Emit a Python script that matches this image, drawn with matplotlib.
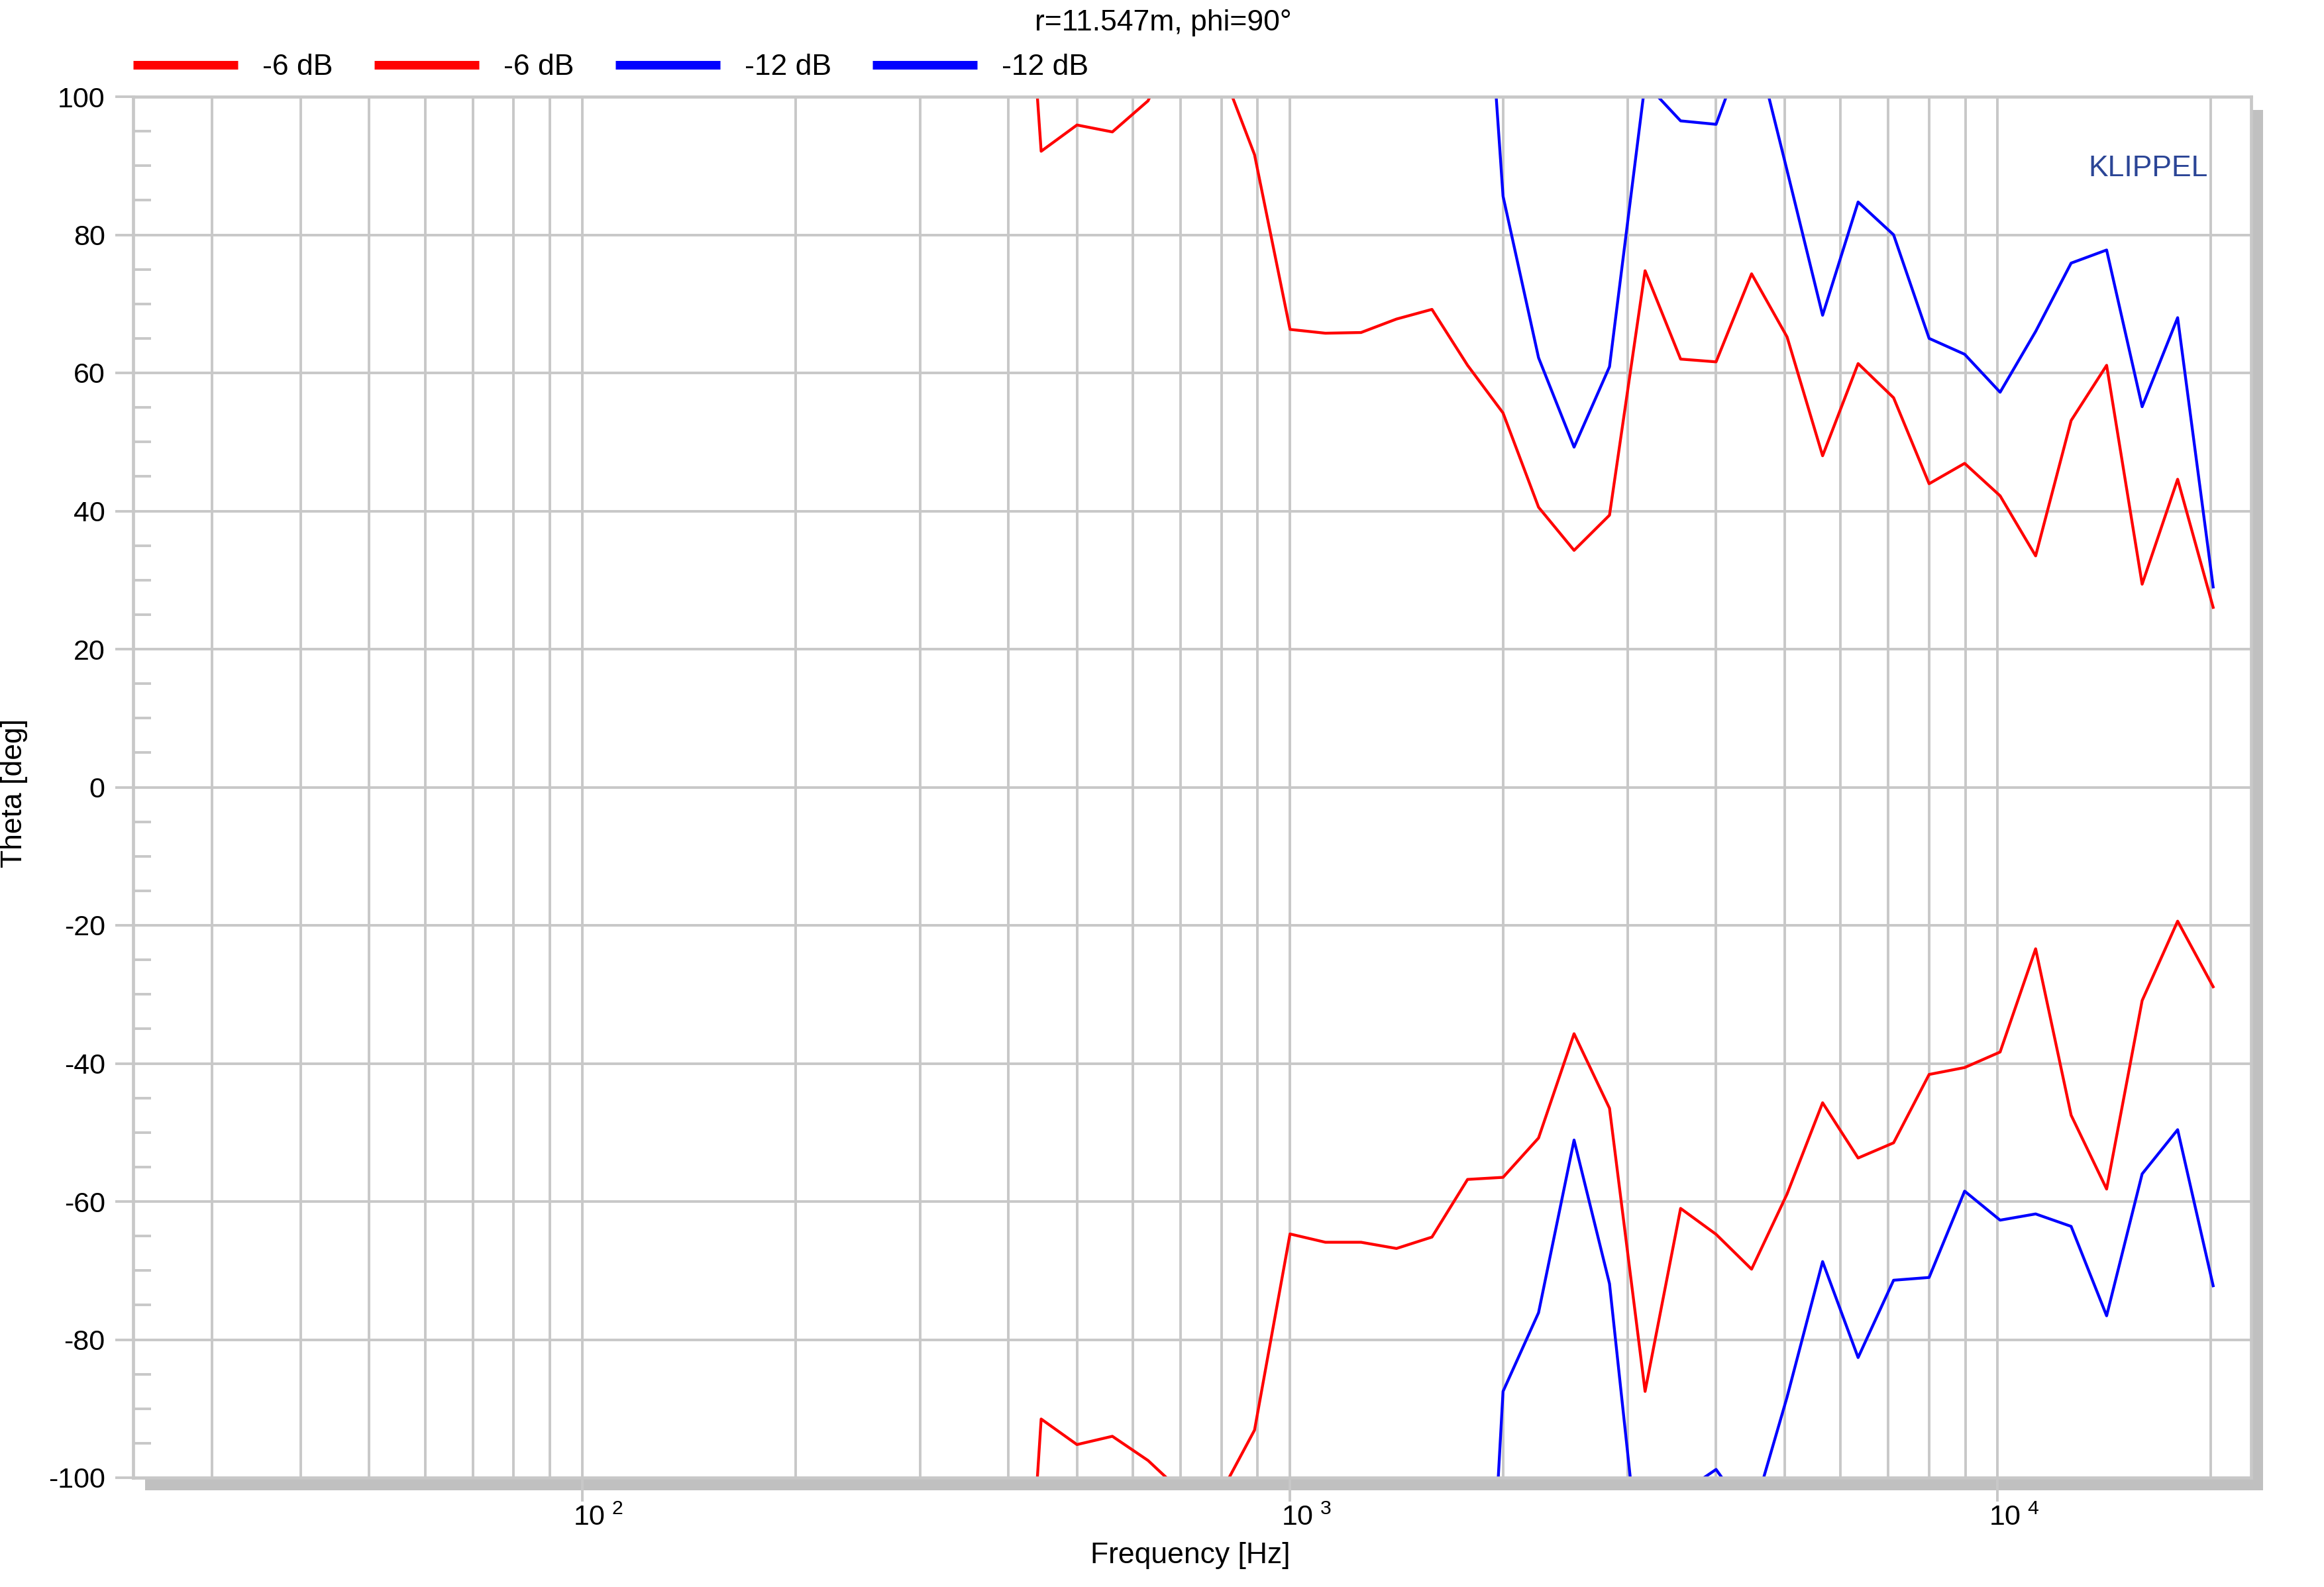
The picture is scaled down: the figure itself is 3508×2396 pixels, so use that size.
import numpy as np
import matplotlib
matplotlib.use('Agg')
import matplotlib.pyplot as plt
from matplotlib.patches import Rectangle
from matplotlib.transforms import ScaledTranslation

plt.rcParams['font.family'] = ['Liberation Sans', 'DejaVu Sans']
plt.rcParams['mathtext.fontset'] = 'custom'
plt.rcParams['mathtext.rm'] = 'Liberation Sans'
plt.rcParams['mathtext.default'] = 'regular'
plt.rcParams['axes.unicode_minus'] = False

# 1/6 octave frequencies [Hz]
freq = [397, 445, 500, 561, 630, 707, 794, 891, 1000, 1122, 1260, 1414, 1587,
        1782, 2000, 2245, 2520, 2828, 3175, 3564, 4000, 4490, 5040, 5657, 6350,
        7127, 8000, 8980, 10079, 11314, 12699, 14254, 16000, 17959, 20159]
freq_blue = freq[13:]

red_upper = [165, 92.1, 95.9, 94.9, 99.4, 110, 105, 91.6, 66.3, 65.75, 65.85,
             67.8, 69.2, 61.1, 54.2, 40.55, 34.3, 39.4, 74.8, 62.0, 61.6, 74.35,
             65.2, 48.0, 61.35, 56.4, 43.95, 46.9, 42.2, 33.5, 53.1, 61.1, 29.4,
             44.6, 26.05]
red_lower = [-170, -91.5, -95.2, -94.0, -97.5, -102.3, -102.7, -93.1, -64.7,
             -65.9, -65.9, -66.8, -65.15, -56.8, -56.5, -50.8, -35.7, -46.5,
             -87.5, -61.0, -64.75, -69.8, -58.9, -45.7, -53.7, -51.5, -41.6,
             -40.6, -38.35, -23.4, -47.5, -58.2, -30.9, -19.4, -28.9]
blue_upper = [160, 85.6, 62.2, 49.25, 60.9, 102, 96.5, 96.0, 110, 89.3, 68.35,
              84.75, 80.0, 65.0, 62.7, 57.2, 66.0, 75.9, 77.8, 55.1, 68.0, 29.0]
blue_lower = [-180, -87.5, -76.1, -51.1, -71.9, -120, -102.3, -98.8, -106, -88.3,
              -68.7, -82.6, -71.4, -71.0, -58.5, -62.7, -61.8, -63.6, -76.55,
              -56.0, -49.6, -72.2]

xmajor = [100, 1000, 10000]
xmajor_labels = [r'$10^{\ 2}$', r'$10^{\ 3}$', r'$10^{\ 4}$']
xminor = [30, 40, 50, 60, 70, 80, 90, 200, 300, 400, 500, 600, 700, 800, 900,
          2000, 3000, 4000, 5000, 6000, 7000, 8000, 9000, 20000]
yticks = [-100, -80, -60, -40, -20, 0, 20, 40, 60, 80, 100]

GRID = '#c8c8c8'
W, H = 3508, 2396

fig = plt.figure(figsize=(W / 100, H / 100), dpi=100)
ax = fig.add_axes([201 / W, 1 - 2231 / H, (3398 - 201) / W, (2231 - 146) / H])

# drop shadow behind the plot area
fig.patches.append(Rectangle((219 / W, 1 - 2250 / H), (3416 - 219) / W, (2250 - 166) / H,
                             transform=fig.transFigure, facecolor='#c0c0c0',
                             edgecolor='none', zorder=-1))

h1, = ax.plot(freq, red_upper, color='red', lw=3.1, label='-6 dB')
h2, = ax.plot(freq, red_lower, color='red', lw=3.1, label='-6 dB')
h3, = ax.plot(freq_blue, blue_upper, color='blue', lw=3.1, label='-12 dB')
h4, = ax.plot(freq_blue, blue_lower, color='blue', lw=3.1, label='-12 dB')

ax.set_xscale('log')
ax.set_xlim(23.19, 22810)
ax.set_ylim(-100, 100)

ax.set_xticks(xmajor)
ax.set_xticklabels(xmajor_labels)
ax.set_xticks(xminor, minor=True)
ax.set_xticklabels([], minor=True)
ax.set_yticks(yticks)
ax.set_yticklabels([str(v) for v in yticks])
ax.set_yticks([v for v in range(-95, 100, 5) if v % 20 != 0], minor=True)

ax.tick_params(axis='x', which='major', direction='out', length=26, width=2.8,
               color=GRID, pad=3, labelsize=31)
ax.tick_params(axis='x', which='minor', length=0)
ax.tick_params(axis='y', which='major', direction='out', length=19.5, width=2.8,
               color=GRID, pad=11, labelsize=31)
ax.tick_params(axis='y', which='minor', direction='in', length=19.5, width=2.8,
               color=GRID)
for lab in ax.get_xticklabels():
    lab.set_transform(lab.get_transform() + ScaledTranslation(0.24, 0, fig.dpi_scale_trans))

ax.grid(True, which='both', axis='x', color=GRID, lw=2.8)
ax.grid(True, which='major', axis='y', color=GRID, lw=2.8)
ax.set_axisbelow(True)
for sp in ax.spines.values():
    sp.set_color(GRID)
    sp.set_linewidth(3.4)

leg = fig.legend(handles=[h1, h2, h3, h4], loc='center left',
                 bbox_to_anchor=(201 / W, 1 - 101.7 / H), bbox_transform=fig.transFigure,
                 ncol=4, frameon=False, fontsize=32, handlelength=3.56,
                 handletextpad=0.83, columnspacing=1.4, borderpad=0, borderaxespad=0)
for ln in leg.get_lines():
    ln.set_linewidth(9.4)
    ln.set_solid_capstyle('butt')

fig.text(1756 / W, 1 - 46 / H, 'r=11.547m, phi=90°', ha='center', va='baseline', fontsize=32)
fig.text(1797 / W, 1 - 2360 / H, 'Frequency [Hz]', ha='center', va='baseline', fontsize=32)
fig.text(22 / W, 1 - 1197 / H, 'Theta [deg]', ha='center', va='center', rotation=90, fontsize=32)
fig.text(3333 / W, 1 - 266.5 / H, 'KLIPPEL', ha='right', va='baseline', fontsize=32,
         color='#2B4596')

fig.savefig('out.png', dpi=100)
